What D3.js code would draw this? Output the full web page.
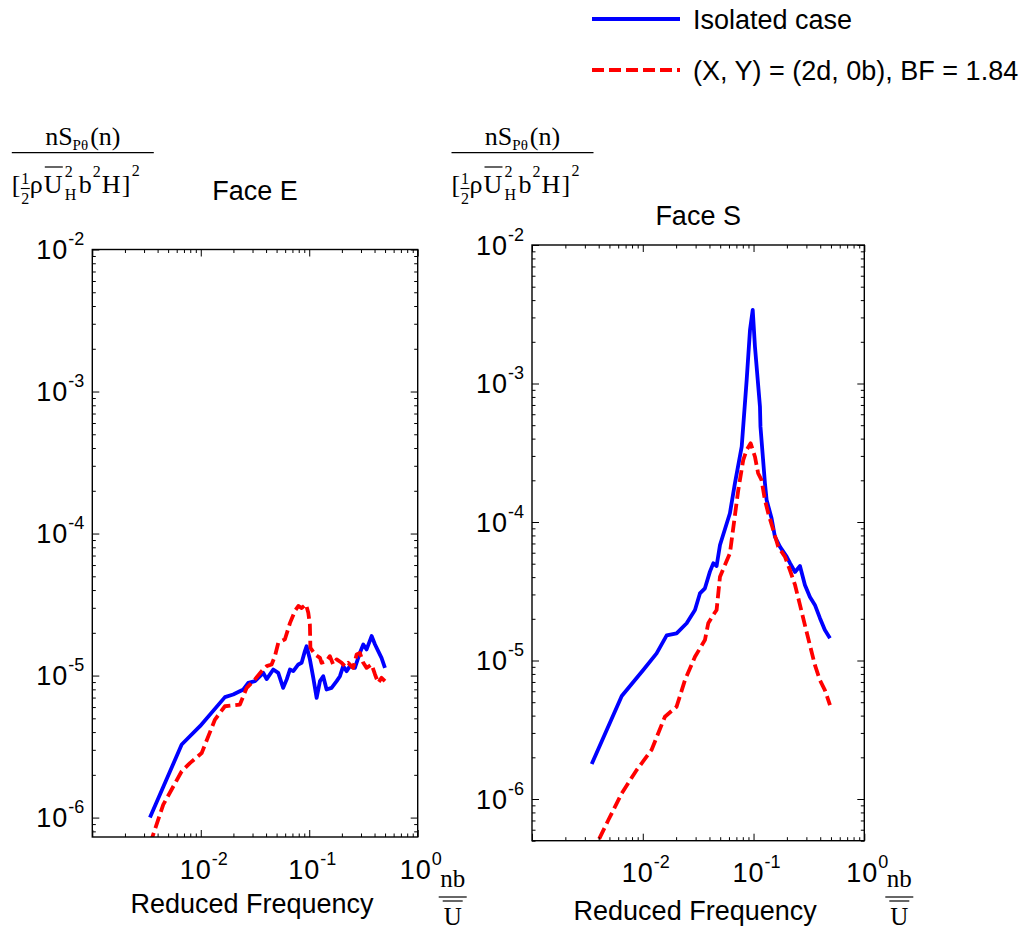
<!DOCTYPE html>
<html>
<head>
<meta charset="utf-8">
<script src="https://cdn.jsdelivr.net/npm/d3@7"></script>
<style>
  html, body { margin: 0; padding: 0; background: #fff; }
  svg { display: block; }
  text { fill: #000; }
</style>
</head>
<body>
<div id="chart"></div>
<script>
// ---------------- data ----------------
const seriesNames = ["Isolated case", "(X, Y) = (2d, 0b), BF = 1.84"];
const panelTitles = ["Face E", "Face S"];
const xTickValues = [1e-2, 1e-1, 1];
const yTickValues = [1e-6, 1e-5, 1e-4, 1e-3, 1e-2];

// Face E, isolated case
const faceE_iso_f = [0.0034,0.00667,0.00984,0.0167,0.0199,0.0247,0.0274,0.0316,0.0377,0.0405,0.0466,0.0518,0.0575,0.0620,0.0664,0.0713,0.0793,0.0851,0.0912,0.0946,0.1014,0.109,0.117,0.1256,0.1346,0.1445,0.1606,0.179,0.192,0.2056,0.221,0.237,0.2636,0.293,0.315,0.338,0.376,0.404,0.4325,0.464,0.499];
const faceE_iso_S = [1.0e-6,3.27e-6,4.4e-6,7.05e-6,7.36e-6,7.98e-6,8.89e-6,9.14e-6,1.045e-5,9.44e-6,1.104e-5,1.045e-5,8.19e-6,9.4e-6,1.104e-5,1.074e-5,1.197e-5,1.23e-5,1.486e-5,1.61e-5,1.30e-5,9.64e-6,6.97e-6,9.14e-6,9.9e-6,7.98e-6,8.19e-6,9.14e-6,9.9e-6,1.165e-5,1.074e-5,1.165e-5,1.133e-5,1.445e-5,1.656e-5,1.528e-5,1.897e-5,1.656e-5,1.486e-5,1.333e-5,1.133e-5];

// Face E, (X,Y) = (2d,0b)
const faceE_bf_f = [0.0034,0.00451,0.00667,0.00794,0.0102,0.01352,0.0167,0.02296,0.0265,0.0316,0.0364,0.0405,0.045,0.0483,0.0518,0.0597,0.0664,0.0738,0.0793,0.0851,0.0933,0.098,0.1014,0.1025,0.113,0.1256,0.130,0.1445,0.155,0.1663,0.179,0.199,0.2133,0.2286,0.254,0.2735,0.293,0.315,0.338,0.376,0.404,0.4325,0.464,0.499];
const faceE_bf_S = [6.5e-7,1.233e-6,2.12e-6,2.42e-6,2.85e-6,4.9e-6,6.08e-6,6.25e-6,8.19e-6,9.4e-6,1.074e-5,1.165e-5,1.197e-5,1.37e-5,1.70e-5,1.80e-5,2.34e-5,2.85e-5,3.09e-5,2.99e-5,3.17e-5,2.77e-5,2.29e-5,1.57e-5,1.41e-5,1.333e-5,1.23e-5,1.264e-5,1.37e-5,1.197e-5,1.30e-5,1.23e-5,1.165e-5,1.23e-5,1.133e-5,1.41e-5,1.445e-5,1.23e-5,1.133e-5,1.197e-5,1.018e-5,8.89e-6,9.64e-6,9.14e-6];

// Face S, isolated case
const faceS_iso_f = [0.00346,0.00646,0.0101,0.01333,0.01644,0.0202,0.0249,0.0296,0.0328,0.0364,0.0404,0.0433,0.0464,0.0498,0.0612,0.0679,0.0782,0.0867,0.0929,0.0983,0.103,0.1143,0.1155,0.1268,0.1313,0.1455,0.156,0.173,0.199,0.213,0.237,0.2625,0.291,0.323,0.358,0.397,0.4406,0.49];
const faceS_iso_S = [1.79e-6,5.54e-6,8.53e-6,1.127e-5,1.52e-5,1.57e-5,1.857e-5,2.317e-5,3.05e-5,3.32e-5,4.38e-5,5.03e-5,4.81e-5,6.82e-5,1.156e-4,1.90e-4,3.50e-4,1.06e-3,2.43e-3,3.40e-3,1.845e-3,6.8e-4,4.88e-4,1.90e-4,1.44e-4,1.064e-4,7.83e-5,6.64e-5,5.62e-5,5.06e-5,4.36e-5,4.81e-5,3.51e-5,2.87e-5,2.52e-5,2.03e-5,1.66e-5,1.45e-5];

// Face S, (X,Y) = (2d,0b)
const faceS_bf_f = [0.00346,0.00489,0.00646,0.00881,0.0120,0.01585,0.0202,0.02405,0.0296,0.0364,0.039,0.0433,0.0464,0.0498,0.0612,0.0728,0.0807,0.0867,0.0942,0.103,0.110,0.118,0.1268,0.1358,0.1507,0.167,0.192,0.213,0.237,0.2625,0.291,0.323,0.358,0.397,0.4406,0.49];
const faceS_bf_S = [4e-7,7.05e-7,1.10e-6,1.62e-6,2.26e-6,3.93e-6,4.64e-6,7.23e-6,1.064e-5,1.406e-5,1.857e-5,2.13e-5,2.317e-5,4.03e-5,5.94e-5,1.70e-4,2.80e-4,3.31e-4,3.70e-4,2.96e-4,2.25e-4,2.01e-4,1.44e-4,1.156e-4,8.75e-5,6.64e-5,5.62e-5,4.5e-5,3.51e-5,2.52e-5,1.80e-5,1.29e-5,9.29e-6,7.23e-6,6.12e-6,4.77e-6];

// ---------------- layout & style ----------------
const W = 1029, H = 929;
const COLORS = ["#0000ff", "#ff0000"];
const DASH = "12,5";
const SANS = "'Liberation Sans', Arial, Helvetica, sans-serif";
const SERIF = "'Liberation Serif', 'Times New Roman', serif";

const panels = [
  { title: panelTitles[0], x0: 92.3, x1: 417.7, y0: 249.5, y1: 837, yDom: [7.3e-7, 1e-2], titleY: 200, xlabY: 913,
    series: [[faceE_iso_f, faceE_iso_S], [faceE_bf_f, faceE_bf_S]] },
  { title: panelTitles[1], x0: 532, x1: 864.3, y0: 245, y1: 840.7, yDom: [5e-7, 1e-2], titleY: 225, xlabY: 920,
    series: [[faceS_iso_f, faceS_iso_S], [faceS_bf_f, faceS_bf_S]] }
];

const svg = d3.select("#chart").append("svg").attr("width", W).attr("height", H)
  .attr("font-family", SANS);

const isMajor = v => Math.abs(Math.log10(v) - Math.round(Math.log10(v))) < 1e-9;

function powLabel(g, x, y, v, anchor) {
  const e = Math.round(Math.log10(v));
  const t = g.append("text").attr("x", x).attr("y", y).attr("text-anchor", anchor)
    .attr("font-size", 27);
  t.append("tspan").attr("letter-spacing", 1).text("10");
  t.append("tspan").attr("font-size", 18).attr("dy", -14).text(String(e));
}

panels.forEach((p, pi) => {
  const xs = d3.scaleLog().domain([1e-3, 1]).range([p.x0, p.x1]);
  const ys = d3.scaleLog().domain(p.yDom).range([p.y1, p.y0]);
  const g = svg.append("g");

  const cid = "clip" + pi;
  svg.append("defs").append("clipPath").attr("id", cid).append("rect")
    .attr("x", p.x0).attr("y", p.y0).attr("width", p.x1 - p.x0).attr("height", p.y1 - p.y0);

  const line = d3.line().x(d => xs(d[0])).y(d => ys(d[1]));
  const lg = g.append("g").attr("clip-path", `url(#${cid})`);
  p.series.forEach((s, si) => {
    const pts = s[0].map((f, i) => [f, s[1][i]]);
    lg.append("path").datum(pts).attr("d", line)
      .attr("fill", "none").attr("stroke", COLORS[si]).attr("stroke-width", 3.8)
      .attr("stroke-linejoin", "round")
      .attr("stroke-dasharray", si === 1 ? DASH : null);
  });

  const xAll = xs.ticks(), yAll = ys.ticks();
  const xMaj = xAll.filter(isMajor), xMin = xAll.filter(v => !isMajor(v));
  const yMaj = yAll.filter(isMajor), yMin = yAll.filter(v => !isMajor(v));
  const axes = [
    [d3.axisBottom, xs, `translate(0,${p.y1})`],
    [d3.axisTop, xs, `translate(0,${p.y0})`],
    [d3.axisLeft, ys, `translate(${p.x0},0)`],
    [d3.axisRight, ys, `translate(${p.x1},0)`]
  ];
  axes.forEach(([fn, sc, tr]) => {
    const isX = sc === xs;
    [[isX ? xMin : yMin, 3.5], [isX ? xMaj : yMaj, 7]].forEach(([vals, len]) => {
      const ax = g.append("g").attr("transform", tr)
        .call(fn(sc).tickValues(vals).tickSize(-len).tickFormat(""));
      ax.select(".domain").remove();
      ax.selectAll("line").attr("stroke", "#000").attr("stroke-width", 1);
    });
  });

  g.append("rect").attr("x", p.x0).attr("y", p.y0)
    .attr("width", p.x1 - p.x0).attr("height", p.y1 - p.y0)
    .attr("fill", "none").attr("stroke", "#000").attr("stroke-width", 1.4);

  xTickValues.forEach(v => powLabel(g, xs(v) + 3, p.y1 + 41.5, v, "middle"));
  yTickValues.forEach(v => powLabel(g, p.x0 - 8, ys(v) + 9.5, v, "end"));

  g.append("text").attr("x", (p.x0 + p.x1) / 2).attr("y", p.titleY)
    .attr("text-anchor", "middle").attr("font-size", 27).text(p.title);

  g.append("text").attr("x", (p.x0 + p.x1) / 2 - 3).attr("y", p.xlabY)
    .attr("text-anchor", "middle").attr("font-size", 27).text("Reduced Frequency");

  // nb / U fraction
  const fx = p.x1 + 35;
  const fr = g.append("g").attr("font-family", SERIF).attr("font-size", 25);
  fr.append("text").attr("x", fx).attr("y", 887).attr("text-anchor", "middle").text("nb");
  fr.append("line").attr("x1", fx - 14).attr("x2", fx + 14).attr("y1", 897).attr("y2", 897)
    .attr("stroke", "#000").attr("stroke-width", 1.2);
  fr.append("line").attr("x1", fx - 10).attr("x2", fx + 10).attr("y1", 901).attr("y2", 901)
    .attr("stroke", "#000").attr("stroke-width", 1.2);
  fr.append("text").attr("x", fx).attr("y", 925).attr("text-anchor", "middle").text("U");

  // y label formula
  const ox = p.x0 - 80.5;
  const yl = svg.append("g").attr("font-family", SERIF);
  const num = yl.append("text").attr("x", ox + 71).attr("y", 145).attr("text-anchor", "middle").attr("font-size", 26);
  num.append("tspan").text("nS");
  num.append("tspan").attr("font-size", 15).attr("dy", 5).text("Pθ");
  num.append("tspan").attr("dy", -5).attr("dx", 2).text("(n)");
  yl.append("line").attr("x1", ox).attr("x2", ox + 142).attr("y1", 152.7).attr("y2", 152.7)
    .attr("stroke", "#000").attr("stroke-width", 1.3);
  const T = (x, y, s, fs) => yl.append("text").attr("x", ox + x).attr("y", y).attr("font-size", fs).text(s);
  T(0, 193, "[", 26);
  yl.append("text").attr("x", ox + 13.5).attr("y", 184).attr("font-size", 16).attr("text-anchor", "middle").text("1");
  yl.append("line").attr("x1", ox + 9).attr("x2", ox + 18).attr("y1", 188.5).attr("y2", 188.5)
    .attr("stroke", "#000").attr("stroke-width", 1.1);
  yl.append("text").attr("x", ox + 13.5).attr("y", 204).attr("font-size", 16).attr("text-anchor", "middle").text("2");
  T(18, 193, "ρ", 26);
  T(32, 193, "U", 26);
  yl.append("line").attr("x1", ox + 33).attr("x2", ox + 51).attr("y1", 167).attr("y2", 167)
    .attr("stroke", "#000").attr("stroke-width", 1.2);
  T(53, 177, "2", 16);
  T(53, 200, "H", 16);
  T(67, 193, "b", 26);
  T(81, 177, "2", 16);
  T(90, 193, "H", 26);
  T(110, 193, "]", 26);
  T(120, 176, "2", 16);
});

// legend
const leg = svg.append("g");
seriesNames.forEach((name, i) => {
  const y = i === 0 ? 19 : 70;
  leg.append("line").attr("x1", 592).attr("x2", 680).attr("y1", y).attr("y2", y)
    .attr("stroke", COLORS[i]).attr("stroke-width", 3.8)
    .attr("stroke-dasharray", i === 1 ? DASH : null);
  leg.append("text").attr("x", 693).attr("y", y + 10).attr("font-size", 27).text(name);
});
</script>
</body>
</html>
